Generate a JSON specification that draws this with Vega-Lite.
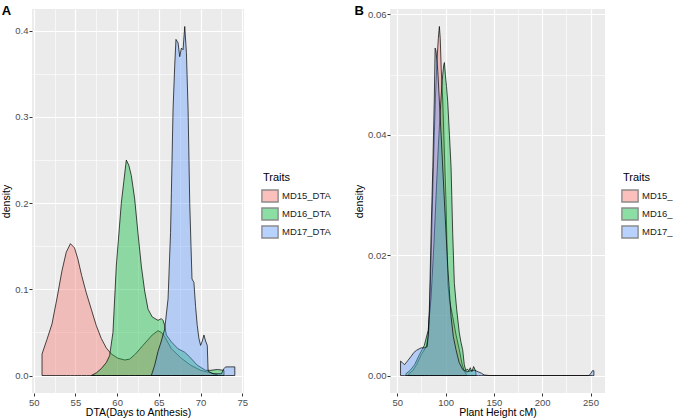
{
  "$schema": "https://vega.github.io/schema/vega-lite/v6.json",
  "background": "white",
  "padding": {"left": 1, "top": 5, "right": 0, "bottom": 0},
  "resolve": {"scale": {"fill": "independent"}, "legend": {"fill": "independent"}},
  "config": {
    "font": "Liberation Sans",
    "view": {"fill": "#EBEBEB", "stroke": null},
    "axis": {
      "domain": false,
      "gridColor": "white",
      "tickColor": "#333333",
      "tickSize": 3,
      "labelColor": "#4D4D4D",
      "labelFontSize": 9.5,
      "labelPadding": 1,
      "titleFontSize": 10.5,
      "titleFontWeight": "normal",
      "titleColor": "#000000",
      "titlePadding": 1,
      "labelOverlap": false,
      "labelFlush": false
    },
    "legend": {
      "titleFontSize": 11,
      "titleFontWeight": "normal",
      "titleColor": "#000000",
      "titlePadding": 6,
      "labelFontSize": 9.5,
      "labelColor": "#1A1A1A",
      "labelOffset": 5,
      "rowPadding": 0,
      "symbolType": "M-1.35,-1H1.35V1H-1.35Z",
      "symbolSize": 144,
      "symbolOpacity": 0.45,
      "symbolStrokeColor": "#000000",
      "symbolStrokeWidth": 1.4
    },
    "title": {"fontSize": 13, "fontWeight": "bold", "anchor": "start", "frame": "bounds", "color": "#000000"},
    "concat": {"spacing": 23}
  },
  "hconcat": [
    {
      "width": 212,
      "height": 384,
      "title": {"text": "A", "offset": -9},
      "data": {"values": [
        {"trait": "MD15_DTA", "x": 51.0, "density": 0.025},
        {"trait": "MD15_DTA", "x": 51.6, "density": 0.042},
        {"trait": "MD15_DTA", "x": 52.2, "density": 0.060},
        {"trait": "MD15_DTA", "x": 52.8, "density": 0.090},
        {"trait": "MD15_DTA", "x": 53.4, "density": 0.122},
        {"trait": "MD15_DTA", "x": 53.9, "density": 0.143},
        {"trait": "MD15_DTA", "x": 54.4, "density": 0.153},
        {"trait": "MD15_DTA", "x": 54.9, "density": 0.148},
        {"trait": "MD15_DTA", "x": 55.3, "density": 0.135},
        {"trait": "MD15_DTA", "x": 55.75, "density": 0.116},
        {"trait": "MD15_DTA", "x": 56.3, "density": 0.096},
        {"trait": "MD15_DTA", "x": 56.9, "density": 0.077},
        {"trait": "MD15_DTA", "x": 57.5, "density": 0.058},
        {"trait": "MD15_DTA", "x": 58.1, "density": 0.043},
        {"trait": "MD15_DTA", "x": 58.7, "density": 0.032},
        {"trait": "MD15_DTA", "x": 59.3, "density": 0.025},
        {"trait": "MD15_DTA", "x": 60.1, "density": 0.020},
        {"trait": "MD15_DTA", "x": 60.9, "density": 0.018},
        {"trait": "MD15_DTA", "x": 61.5, "density": 0.019},
        {"trait": "MD15_DTA", "x": 62.2, "density": 0.025},
        {"trait": "MD15_DTA", "x": 63.1, "density": 0.035},
        {"trait": "MD15_DTA", "x": 64.2, "density": 0.047},
        {"trait": "MD15_DTA", "x": 64.9, "density": 0.052},
        {"trait": "MD15_DTA", "x": 65.3, "density": 0.050},
        {"trait": "MD15_DTA", "x": 65.7, "density": 0.045},
        {"trait": "MD15_DTA", "x": 66.5, "density": 0.031},
        {"trait": "MD15_DTA", "x": 67.7, "density": 0.020},
        {"trait": "MD15_DTA", "x": 68.8, "density": 0.012},
        {"trait": "MD15_DTA", "x": 70.0, "density": 0.006},
        {"trait": "MD15_DTA", "x": 71.2, "density": 0.003},
        {"trait": "MD15_DTA", "x": 72.0, "density": 0.001},
        {"trait": "MD16_DTA", "x": 56.9, "density": 0.000},
        {"trait": "MD16_DTA", "x": 57.5, "density": 0.003},
        {"trait": "MD16_DTA", "x": 58.1, "density": 0.008},
        {"trait": "MD16_DTA", "x": 58.7, "density": 0.015},
        {"trait": "MD16_DTA", "x": 59.1, "density": 0.023},
        {"trait": "MD16_DTA", "x": 59.5, "density": 0.050},
        {"trait": "MD16_DTA", "x": 59.9, "density": 0.127},
        {"trait": "MD16_DTA", "x": 60.5, "density": 0.200},
        {"trait": "MD16_DTA", "x": 60.8, "density": 0.225},
        {"trait": "MD16_DTA", "x": 61.1, "density": 0.250},
        {"trait": "MD16_DTA", "x": 61.4, "density": 0.244},
        {"trait": "MD16_DTA", "x": 61.7, "density": 0.232},
        {"trait": "MD16_DTA", "x": 62.1, "density": 0.205},
        {"trait": "MD16_DTA", "x": 62.5, "density": 0.165},
        {"trait": "MD16_DTA", "x": 62.9, "density": 0.127},
        {"trait": "MD16_DTA", "x": 63.3, "density": 0.098},
        {"trait": "MD16_DTA", "x": 63.7, "density": 0.077},
        {"trait": "MD16_DTA", "x": 64.2, "density": 0.068},
        {"trait": "MD16_DTA", "x": 64.9, "density": 0.064},
        {"trait": "MD16_DTA", "x": 65.3, "density": 0.066},
        {"trait": "MD16_DTA", "x": 65.5, "density": 0.064},
        {"trait": "MD16_DTA", "x": 65.7, "density": 0.058},
        {"trait": "MD16_DTA", "x": 65.9, "density": 0.047},
        {"trait": "MD16_DTA", "x": 66.5, "density": 0.039},
        {"trait": "MD16_DTA", "x": 67.3, "density": 0.031},
        {"trait": "MD16_DTA", "x": 68.1, "density": 0.027},
        {"trait": "MD16_DTA", "x": 68.65, "density": 0.022},
        {"trait": "MD16_DTA", "x": 69.6, "density": 0.012},
        {"trait": "MD16_DTA", "x": 70.6, "density": 0.006},
        {"trait": "MD16_DTA", "x": 71.2, "density": 0.006},
        {"trait": "MD16_DTA", "x": 72.0, "density": 0.007},
        {"trait": "MD16_DTA", "x": 72.8, "density": 0.006},
        {"trait": "MD17_DTA", "x": 64.1, "density": 0.000},
        {"trait": "MD17_DTA", "x": 64.5, "density": 0.012},
        {"trait": "MD17_DTA", "x": 64.9, "density": 0.028},
        {"trait": "MD17_DTA", "x": 65.3, "density": 0.040},
        {"trait": "MD17_DTA", "x": 65.7, "density": 0.054},
        {"trait": "MD17_DTA", "x": 66.1, "density": 0.089},
        {"trait": "MD17_DTA", "x": 66.4, "density": 0.166},
        {"trait": "MD17_DTA", "x": 66.5, "density": 0.212},
        {"trait": "MD17_DTA", "x": 66.7, "density": 0.309},
        {"trait": "MD17_DTA", "x": 66.9, "density": 0.360},
        {"trait": "MD17_DTA", "x": 67.05, "density": 0.390},
        {"trait": "MD17_DTA", "x": 67.3, "density": 0.386},
        {"trait": "MD17_DTA", "x": 67.5, "density": 0.370},
        {"trait": "MD17_DTA", "x": 67.7, "density": 0.380},
        {"trait": "MD17_DTA", "x": 67.9, "density": 0.378},
        {"trait": "MD17_DTA", "x": 68.1, "density": 0.405},
        {"trait": "MD17_DTA", "x": 68.3, "density": 0.375},
        {"trait": "MD17_DTA", "x": 68.5, "density": 0.309},
        {"trait": "MD17_DTA", "x": 68.7, "density": 0.200},
        {"trait": "MD17_DTA", "x": 68.85, "density": 0.150},
        {"trait": "MD17_DTA", "x": 68.97, "density": 0.112},
        {"trait": "MD17_DTA", "x": 69.2, "density": 0.108},
        {"trait": "MD17_DTA", "x": 69.4, "density": 0.080},
        {"trait": "MD17_DTA", "x": 69.6, "density": 0.058},
        {"trait": "MD17_DTA", "x": 69.8, "density": 0.043},
        {"trait": "MD17_DTA", "x": 70.0, "density": 0.035},
        {"trait": "MD17_DTA", "x": 70.2, "density": 0.040},
        {"trait": "MD17_DTA", "x": 70.4, "density": 0.047},
        {"trait": "MD17_DTA", "x": 70.6, "density": 0.040},
        {"trait": "MD17_DTA", "x": 70.8, "density": 0.035},
        {"trait": "MD17_DTA", "x": 70.9, "density": 0.005},
        {"trait": "MD17_DTA", "x": 71.5, "density": 0.002},
        {"trait": "MD17_DTA", "x": 72.5, "density": 0.002},
        {"trait": "MD17_DTA", "x": 72.8, "density": 0.008},
        {"trait": "MD17_DTA", "x": 73.0, "density": 0.010},
        {"trait": "MD17_DTA", "x": 74.1, "density": 0.010}
      ]},
      "mark": {"type": "area", "fillOpacity": 0.4, "stroke": "#000000", "strokeWidth": 0.7},
      "encoding": {
        "x": {
          "field": "x", "type": "quantitative",
          "scale": {"domain": [49.8, 75.2], "nice": false, "zero": false},
          "axis": {
            "title": "DTA(Days to Anthesis)",
            "values": [50, 52.5, 55, 57.5, 60, 62.5, 65, 67.5, 70, 72.5, 75],
            "labelExpr": "datum.value % 5 === 0 ? datum.label : ''",
            "format": "d",
            "gridWidth": {"condition": {"test": "datum.value % 5 === 0", "value": 1.2}, "value": 0.6},
            "tickOpacity": {"condition": {"test": "datum.value % 5 === 0", "value": 1}, "value": 0}
          }
        },
        "y": {
          "field": "density", "type": "quantitative", "stack": null,
          "scale": {"domain": [-0.0203, 0.4253], "nice": false, "zero": false},
          "axis": {
            "title": "density",
            "values": [0, 0.05, 0.1, 0.15, 0.2, 0.25, 0.3, 0.35, 0.4],
            "format": ".1f",
            "titlePadding": 3,
            "labelExpr": "abs(datum.value * 10 - round(datum.value * 10)) < 0.001 ? datum.label : ''",
            "gridWidth": {"condition": {"test": "abs(datum.value * 10 - round(datum.value * 10)) < 0.001", "value": 1.2}, "value": 0.6},
            "tickOpacity": {"condition": {"test": "abs(datum.value * 10 - round(datum.value * 10)) < 0.001", "value": 1}, "value": 0}
          }
        },
        "fill": {
          "field": "trait", "type": "nominal",
          "scale": {"domain": ["MD15_DTA", "MD16_DTA", "MD17_DTA"], "range": ["#F8766D", "#00BA38", "#619CFF"]},
          "legend": {
            "title": "Traits",
            "orient": "none",
            "legendX": 231,
            "legendY": 163
          }
        }
      }
    },
    {
      "width": 215,
      "height": 384,
      "title": {"text": "B", "offset": -9},
      "data": {"values": [
        {"trait": "MD15_PH", "x": 62, "density": 0.0003},
        {"trait": "MD15_PH", "x": 66, "density": 0.0008},
        {"trait": "MD15_PH", "x": 70, "density": 0.0018},
        {"trait": "MD15_PH", "x": 75, "density": 0.0035},
        {"trait": "MD15_PH", "x": 80, "density": 0.0048},
        {"trait": "MD15_PH", "x": 82, "density": 0.0065},
        {"trait": "MD15_PH", "x": 83.5, "density": 0.011},
        {"trait": "MD15_PH", "x": 85, "density": 0.019},
        {"trait": "MD15_PH", "x": 86.5, "density": 0.029},
        {"trait": "MD15_PH", "x": 88, "density": 0.038},
        {"trait": "MD15_PH", "x": 89.5, "density": 0.046},
        {"trait": "MD15_PH", "x": 91, "density": 0.052},
        {"trait": "MD15_PH", "x": 92.5, "density": 0.056},
        {"trait": "MD15_PH", "x": 93.6, "density": 0.058},
        {"trait": "MD15_PH", "x": 94.5, "density": 0.056},
        {"trait": "MD15_PH", "x": 95.5, "density": 0.051},
        {"trait": "MD15_PH", "x": 97.1, "density": 0.0456},
        {"trait": "MD15_PH", "x": 98.8, "density": 0.037},
        {"trait": "MD15_PH", "x": 100.5, "density": 0.029},
        {"trait": "MD15_PH", "x": 102.3, "density": 0.0153},
        {"trait": "MD15_PH", "x": 104, "density": 0.0126},
        {"trait": "MD15_PH", "x": 107.4, "density": 0.0098},
        {"trait": "MD15_PH", "x": 110.8, "density": 0.0068},
        {"trait": "MD15_PH", "x": 114.2, "density": 0.0043},
        {"trait": "MD15_PH", "x": 117, "density": 0.002},
        {"trait": "MD15_PH", "x": 119.4, "density": 0.0007},
        {"trait": "MD15_PH", "x": 121.5, "density": 0.0002},
        {"trait": "MD16_PH", "x": 59, "density": 0.0003},
        {"trait": "MD16_PH", "x": 63, "density": 0.0008},
        {"trait": "MD16_PH", "x": 68, "density": 0.0018},
        {"trait": "MD16_PH", "x": 73, "density": 0.0035},
        {"trait": "MD16_PH", "x": 78, "density": 0.005},
        {"trait": "MD16_PH", "x": 82, "density": 0.0075},
        {"trait": "MD16_PH", "x": 85, "density": 0.013},
        {"trait": "MD16_PH", "x": 88, "density": 0.022},
        {"trait": "MD16_PH", "x": 90.5, "density": 0.031},
        {"trait": "MD16_PH", "x": 92.5, "density": 0.038},
        {"trait": "MD16_PH", "x": 94.5, "density": 0.044},
        {"trait": "MD16_PH", "x": 96.5, "density": 0.049},
        {"trait": "MD16_PH", "x": 98, "density": 0.0515},
        {"trait": "MD16_PH", "x": 98.8, "density": 0.052},
        {"trait": "MD16_PH", "x": 99.8, "density": 0.050},
        {"trait": "MD16_PH", "x": 101, "density": 0.048},
        {"trait": "MD16_PH", "x": 102.2, "density": 0.0456},
        {"trait": "MD16_PH", "x": 104, "density": 0.040},
        {"trait": "MD16_PH", "x": 105.7, "density": 0.0346},
        {"trait": "MD16_PH", "x": 107.4, "density": 0.0236},
        {"trait": "MD16_PH", "x": 109.1, "density": 0.0153},
        {"trait": "MD16_PH", "x": 111.5, "density": 0.011},
        {"trait": "MD16_PH", "x": 114.2, "density": 0.0071},
        {"trait": "MD16_PH", "x": 116, "density": 0.0055},
        {"trait": "MD16_PH", "x": 117.7, "density": 0.0043},
        {"trait": "MD16_PH", "x": 119.4, "density": 0.0018},
        {"trait": "MD16_PH", "x": 121, "density": 0.0008},
        {"trait": "MD16_PH", "x": 122.5, "density": 0.0011},
        {"trait": "MD16_PH", "x": 124, "density": 0.0008},
        {"trait": "MD16_PH", "x": 125.6, "density": 0.0013},
        {"trait": "MD16_PH", "x": 127.2, "density": 0.0006},
        {"trait": "MD16_PH", "x": 129, "density": 0.0015},
        {"trait": "MD16_PH", "x": 130.5, "density": 0.001},
        {"trait": "MD16_PH", "x": 131.5, "density": 0.0004},
        {"trait": "MD17_PH", "x": 53.4, "density": 0.0024},
        {"trait": "MD17_PH", "x": 55, "density": 0.0022},
        {"trait": "MD17_PH", "x": 57.5, "density": 0.0018},
        {"trait": "MD17_PH", "x": 61, "density": 0.0025},
        {"trait": "MD17_PH", "x": 64.4, "density": 0.0032},
        {"trait": "MD17_PH", "x": 67, "density": 0.0038},
        {"trait": "MD17_PH", "x": 70, "density": 0.0042},
        {"trait": "MD17_PH", "x": 74.7, "density": 0.0046},
        {"trait": "MD17_PH", "x": 78, "density": 0.0046},
        {"trait": "MD17_PH", "x": 81, "density": 0.0048},
        {"trait": "MD17_PH", "x": 82.5, "density": 0.0075},
        {"trait": "MD17_PH", "x": 83.5, "density": 0.0126},
        {"trait": "MD17_PH", "x": 85, "density": 0.0236},
        {"trait": "MD17_PH", "x": 86.8, "density": 0.0346},
        {"trait": "MD17_PH", "x": 88.3, "density": 0.0456},
        {"trait": "MD17_PH", "x": 89.2, "density": 0.0544},
        {"trait": "MD17_PH", "x": 90, "density": 0.054},
        {"trait": "MD17_PH", "x": 91, "density": 0.0525},
        {"trait": "MD17_PH", "x": 92, "density": 0.0505},
        {"trait": "MD17_PH", "x": 95.4, "density": 0.040},
        {"trait": "MD17_PH", "x": 98.8, "density": 0.029},
        {"trait": "MD17_PH", "x": 102.3, "density": 0.018},
        {"trait": "MD17_PH", "x": 105.7, "density": 0.0098},
        {"trait": "MD17_PH", "x": 108, "density": 0.0065},
        {"trait": "MD17_PH", "x": 110.8, "density": 0.0043},
        {"trait": "MD17_PH", "x": 114, "density": 0.0022},
        {"trait": "MD17_PH", "x": 117.7, "density": 0.001},
        {"trait": "MD17_PH", "x": 122, "density": 0.0006},
        {"trait": "MD17_PH", "x": 126, "density": 0.0008},
        {"trait": "MD17_PH", "x": 130, "density": 0.0009},
        {"trait": "MD17_PH", "x": 134, "density": 0.0006},
        {"trait": "MD17_PH", "x": 137, "density": 0.0004},
        {"trait": "MD17_PH", "x": 140, "density": 0.0001},
        {"trait": "MD17_PH", "x": 145, "density": 0.0},
        {"trait": "MD17_PH", "x": 248.5, "density": 0.0},
        {"trait": "MD17_PH", "x": 250.5, "density": 0.0004},
        {"trait": "MD17_PH", "x": 252, "density": 0.0008},
        {"trait": "MD17_PH", "x": 253.5, "density": 0.0008}
      ]},
      "mark": {"type": "area", "fillOpacity": 0.4, "stroke": "#000000", "strokeWidth": 0.7},
      "encoding": {
        "x": {
          "field": "x", "type": "quantitative",
          "scale": {"domain": [42.5, 265], "nice": false, "zero": false},
          "axis": {
            "title": "Plant Height cM)",
            "values": [50, 75, 100, 125, 150, 175, 200, 225, 250],
            "labelExpr": "datum.value % 50 === 0 ? datum.label : ''",
            "format": "d",
            "gridWidth": {"condition": {"test": "datum.value % 50 === 0", "value": 1.2}, "value": 0.6},
            "tickOpacity": {"condition": {"test": "datum.value % 50 === 0", "value": 1}, "value": 0}
          }
        },
        "y": {
          "field": "density", "type": "quantitative", "stack": null,
          "scale": {"domain": [-0.0029, 0.0609], "nice": false, "zero": false},
          "axis": {
            "title": "density",
            "values": [0, 0.01, 0.02, 0.03, 0.04, 0.05, 0.06],
            "format": ".2f",
            "titlePadding": 3,
            "labelExpr": "round(datum.value * 100) % 2 === 0 ? datum.label : ''",
            "gridWidth": {"condition": {"test": "round(datum.value * 100) % 2 === 0", "value": 1.2}, "value": 0.6},
            "tickOpacity": {"condition": {"test": "round(datum.value * 100) % 2 === 0", "value": 1}, "value": 0}
          }
        },
        "fill": {
          "field": "trait", "type": "nominal",
          "scale": {"domain": ["MD15_PH", "MD16_PH", "MD17_PH"], "range": ["#F8766D", "#00BA38", "#619CFF"]},
          "legend": {
            "title": "Traits",
            "orient": "none",
            "legendX": 233,
            "legendY": 163,
            "labelLimit": 33,
            "encode": {
              "labels": {"update": {"ellipsis": {"value": "\u200B"}}}
            }
          }
        }
      }
    }
  ]
}
